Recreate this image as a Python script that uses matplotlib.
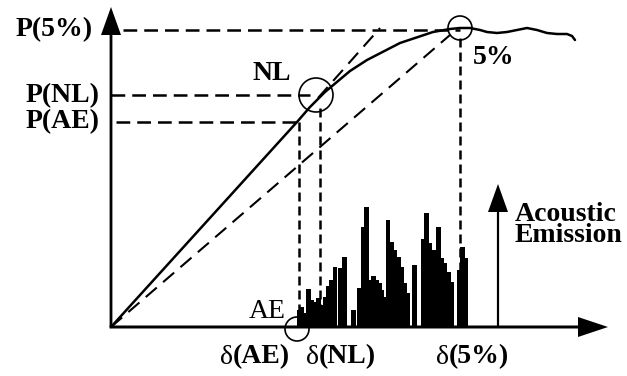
'''
    Load-displacement curve with acoustic emission bursts,
    marking the AE onset, the non-linearity point and the 5% offset.
'''

import matplotlib.pyplot as plt
from matplotlib.patches import Circle

plt.rcParams['font.family'] = ['Liberation Serif', 'DejaVu Serif']

# load curve (displacement, load) in drawing units, origin at the axes corner
curve_d = [0, 186, 199, 214, 239, 256, 289, 322, 339, 349,
           359, 369, 376, 386, 396, 406, 416, 426, 436, 446, 456, 461, 464]
curve_p = [0, 205, 220, 235, 256, 267, 284, 295, 298, 299,
           299, 297, 295, 294, 295, 297, 299, 297, 294, 293, 293, 291, 287]

# acoustic emission bursts
ae_d = [188, 191, 194, 197.5, 200.5, 204, 207.5, 210.5, 214, 217.5, 220.5,
        224, 229, 233.5, 242.5, 248, 252.5, 255.5, 259, 262.5, 265.5, 268.5,
        271, 273.5, 277, 280.5, 284, 287.5, 290.5, 293.5, 296.5, 303.5, 312.5,
        315.5, 319, 323.5, 327.5, 330.5, 334, 337.5, 340.5, 348.5, 351.5, 355]
ae_h = [17, 20, 14, 38, 27, 25, 29, 22, 30, 41, 47, 60, 59, 70, 17, 39, 100,
        120, 47, 51, 47, 44, 37, 30, 107, 85, 77, 70, 60, 44, 34, 62, 88, 114,
        84, 77, 100, 69, 64, 55, 45, 57, 80, 69]

# characteristic points
d_ae, p_ae = 188, 205
d_nl, p_nl = 209, 232
d_5, p_5 = 349, 297

# tangent lines
secant_d = [0, 339]
secant_p = [0, 292]
elastic_d = [207, 269]
elastic_p = [229, 299]

fig = plt.figure(figsize=(6.27, 3.76), dpi=100)
ax = fig.add_axes([0, 0, 1, 1])
ax.set_xlim(-111, 516)
ax.set_ylim(-49, 327)
ax.axis('off')

# AE bars
ax.bar(ae_d, ae_h, width=4.2, color='black', linewidth=0, zorder=2)

# axes arrows
ax.arrow(0, 0, 0, 320, width=2.8, head_width=20, head_length=28,
         length_includes_head=True, fc='black', ec='none', zorder=4)
ax.arrow(-1.4, 0, 498.4, 0, width=3, head_width=20, head_length=30,
         length_includes_head=True, fc='black', ec='none', zorder=4)
ax.arrow(387, 0, 0, 143, width=2.2, head_width=20, head_length=28,
         length_includes_head=True, fc='black', ec='none', zorder=4)

# load curve
ax.plot(curve_d, curve_p, color='black', lw=1.8, solid_capstyle='round', zorder=3)

# guide lines
hdash = (0, (5.5, 2.8))
vdash = (0, (3.6, 2))
sdash = (0, (7, 4))
ax.plot([12, d_5], [p_5, p_5], color='black', lw=1.8, ls=hdash)
ax.plot([0, d_nl - 10], [p_nl, p_nl], color='black', lw=1.8, ls=hdash)
ax.plot([5, d_ae], [p_ae, p_ae], color='black', lw=1.8, ls=hdash)
ax.plot([d_ae, d_ae], [p_ae, 0], color='black', lw=1.8, ls=vdash)
ax.plot([d_nl, d_nl], [219, 0], color='black', lw=1.8, ls=vdash)
ax.plot([d_5, d_5], [289, 0], color='black', lw=1.8, ls=vdash)
ax.plot(secant_d, secant_p, color='black', lw=1.5, ls=sdash)
ax.plot(elastic_d, elastic_p, color='black', lw=1.5, ls=sdash)

# circles
for (cx, cy, r) in [(205, 232, 17), (349, 299, 12), (186, -2, 12)]:
    ax.add_patch(Circle((cx, cy), r, fill=False, ec='black', lw=1.2, zorder=5))

# labels
bold = dict(fontsize=20, fontweight='bold', color='black')
ax.text(-18, 297, 'P(5%)', ha='right', va='center', **bold)
ax.text(-11, 231, 'P(NL)', ha='right', va='center', **bold)
ax.text(-11, 205, 'P(AE)', ha='right', va='center', **bold)
ax.text(161, 254, 'NL', ha='center', va='center', **bold)
ax.text(383, 270, '5%', ha='center', va='center', **bold)
ax.text(156, 16, 'AE', ha='center', va='center', fontsize=20, color='black')

for split, name in [(122, '(AE)'), (208, '(NL)'), (338, '(5%)')]:
    ax.text(split, -30, 'δ', ha='right', va='center', fontsize=20, color='black')
    ax.text(split, -30, name, ha='left', va='center', **bold)

ax.text(404, 102, 'Acoustic\nEmission', ha='left', va='center',
        linespacing=0.8, **bold)

fig.savefig('out.png', dpi=100)
